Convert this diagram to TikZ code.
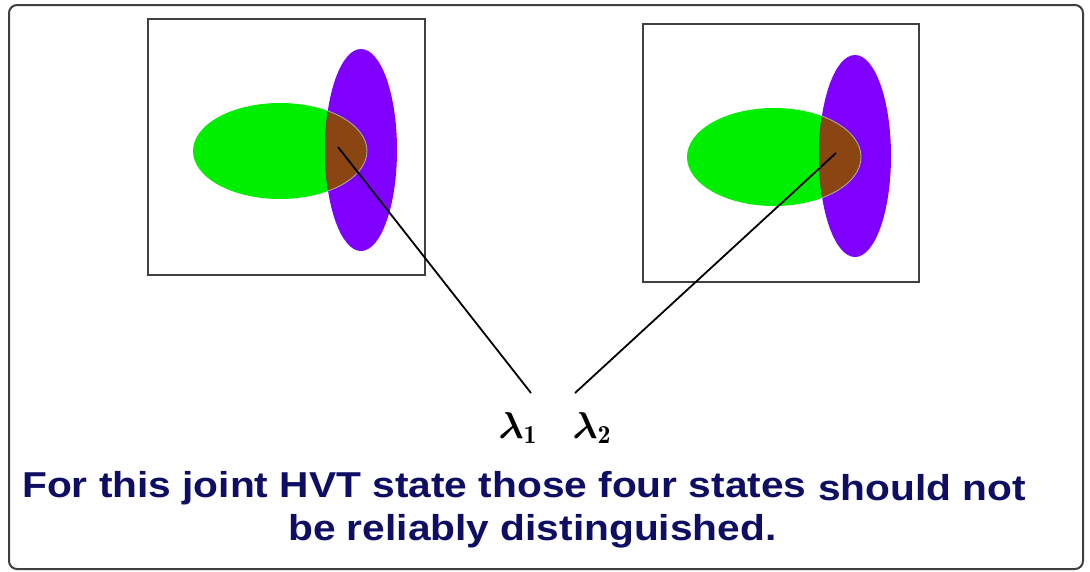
\documentclass[tikz,border=0pt]{standalone}
\usepackage{amsmath}
\usepackage{bm}
\usepackage{fontspec}
\newfontfamily\capfont[FakeStretch=1.13]{Liberation Sans}
\definecolor{navy}{RGB}{14,14,100}
\definecolor{fgreen}{RGB}{0,238,0}
\definecolor{fpurple}{RGB}{127,0,255}
\definecolor{fbrown}{RGB}{139,69,19}
\definecolor{framegray}{RGB}{64,64,64}
\tikzset{
  framebox/.style={draw=framegray, line width=1.5pt},
  greenblob/.style={fill=fgreen},
  purpleblob/.style={fill=fpurple},
  brownblob/.style={fill=fbrown, draw=gray!60, line width=0.8pt},
  pointer/.style={draw=black, line width=1.8pt},
  caption/.style={font=\capfont\bfseries\fontsize{36}{42}\selectfont, text=navy, inner sep=0pt},
  lam/.style={font=\fontsize{20.74}{25}\selectfont, inner sep=0pt, scale=1.8}
}
\begin{document}
\begin{tikzpicture}[x=1pt,y=-1pt]
\useasboundingbox (0,0) rectangle (1090,571);
\fill[white] (0,0) rectangle (1090,571);
% outer frame
\draw[framebox, line width=2pt, rounded corners=8pt] (9,5) rectangle (1083,569);

% left panel
\draw[framebox] (148,19) rectangle (425,275);
\fill[greenblob] (280,151) ellipse [x radius=87, y radius=48];
\fill[purpleblob] (361,150) ellipse [x radius=36, y radius=101];
\begin{scope}
  \clip (361,150) ellipse [x radius=36, y radius=101];
  \path[brownblob] (280,151) ellipse [x radius=87, y radius=48];
\end{scope}
\coordinate (c1) at (338,147);

% right panel
\draw[framebox] (643,24) rectangle (919,282);
\fill[greenblob] (774,157) ellipse [x radius=87, y radius=49];
\fill[purpleblob] (855,156) ellipse [x radius=36, y radius=101];
\begin{scope}
  \clip (855,156) ellipse [x radius=36, y radius=101];
  \path[brownblob] (774,157) ellipse [x radius=87, y radius=49];
\end{scope}
\coordinate (c2) at (836,153);

% lambdas
\node[lam, anchor=base] (l1) at (518,438) {$\boldsymbol{\lambda}_{\mathbf 1}$};
\node[lam, anchor=base] (l2) at (592,438) {$\boldsymbol{\lambda}_{\mathbf 2}$};
\coordinate (e1) at (531,393);
\coordinate (e2) at (575,393);
\draw[pointer] (c1) -- (e1);
\draw[pointer] (c2) -- (e2);

% caption
\node[caption, anchor=base west] (t1) at (22,497) {For this joint HVT state those four states};
\node[caption, anchor=base west] (t2) at (818,500) {should not};
\node[caption, anchor=base west] (t3) at (288,540) {be reliably distinguished.};
\end{tikzpicture}
\end{document}
